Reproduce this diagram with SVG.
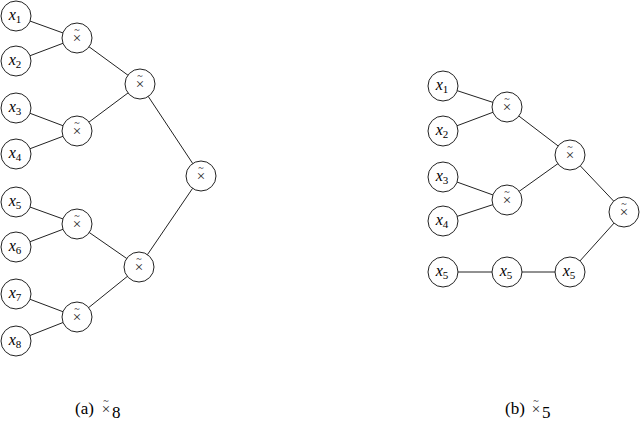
<svg xmlns="http://www.w3.org/2000/svg" width="640" height="422" viewBox="0 0 640 422">
<style>
.n{fill:#fff;stroke:#222;stroke-width:1}
.e{stroke:#222;stroke-width:1;fill:none}
.x{font-family:"Liberation Serif","DejaVu Serif",serif;font-style:italic;font-size:16px;fill:#000;text-anchor:middle}
.s{font-style:normal;font-size:11px}
.m{font-family:"Liberation Serif","DejaVu Serif",serif;font-size:15px;fill:#222;text-anchor:middle}
.t{font-family:"Liberation Serif","DejaVu Serif",serif;font-size:10px;fill:#222;text-anchor:middle}
.c{font-family:"Liberation Serif","DejaVu Serif",serif;font-size:17px;fill:#000}
</style>
<defs>
<g id="tx"><text class="m" y="5">×</text><text class="t" y="-5.5">~</text></g>
<g id="op"><circle class="n" r="15"/><use href="#tx"/></g>
</defs>
<g id="connectors">
<line class="e" x1="16" y1="16" x2="77" y2="38"/>
<line class="e" x1="16" y1="61" x2="77" y2="38"/>
<line class="e" x1="16" y1="108" x2="77" y2="131"/>
<line class="e" x1="16" y1="154" x2="77" y2="131"/>
<line class="e" x1="77" y1="38" x2="140" y2="84"/>
<line class="e" x1="77" y1="131" x2="140" y2="84"/>
<line class="e" x1="16" y1="202" x2="77" y2="224"/>
<line class="e" x1="16" y1="247" x2="77" y2="224"/>
<line class="e" x1="16" y1="294" x2="77" y2="317"/>
<line class="e" x1="16" y1="341" x2="77" y2="317"/>
<line class="e" x1="77" y1="224" x2="139" y2="267"/>
<line class="e" x1="77" y1="317" x2="139" y2="267"/>
<line class="e" x1="140" y1="84" x2="201" y2="176"/>
<line class="e" x1="139" y1="267" x2="201" y2="176"/>
<line class="e" x1="443" y1="86" x2="507" y2="107"/>
<line class="e" x1="443" y1="131" x2="507" y2="107"/>
<line class="e" x1="443" y1="177" x2="507" y2="200"/>
<line class="e" x1="443" y1="221" x2="507" y2="200"/>
<line class="e" x1="507" y1="107" x2="570" y2="155"/>
<line class="e" x1="507" y1="200" x2="570" y2="155"/>
<line class="e" x1="570" y1="155" x2="624" y2="212"/>
<line class="e" x1="443" y1="272" x2="570" y2="272"/>
<line class="e" x1="570" y1="272" x2="624" y2="212"/>
</g>
<g id="a-x1"><circle class="n" cx="16" cy="16" r="15"/><text class="x" x="15" y="20">x<tspan class="s" dy="3">1</tspan></text></g>
<g id="a-x2"><circle class="n" cx="16" cy="61" r="15"/><text class="x" x="15" y="65">x<tspan class="s" dy="3">2</tspan></text></g>
<g id="a-x3"><circle class="n" cx="16" cy="108" r="15"/><text class="x" x="15" y="112">x<tspan class="s" dy="3">3</tspan></text></g>
<g id="a-x4"><circle class="n" cx="16" cy="154" r="15"/><text class="x" x="15" y="158">x<tspan class="s" dy="3">4</tspan></text></g>
<g id="a-x5"><circle class="n" cx="16" cy="202" r="15"/><text class="x" x="15" y="206">x<tspan class="s" dy="3">5</tspan></text></g>
<g id="a-x6"><circle class="n" cx="16" cy="247" r="15"/><text class="x" x="15" y="251">x<tspan class="s" dy="3">6</tspan></text></g>
<g id="a-x7"><circle class="n" cx="16" cy="294" r="15"/><text class="x" x="15" y="298">x<tspan class="s" dy="3">7</tspan></text></g>
<g id="a-x8"><circle class="n" cx="16" cy="341" r="15"/><text class="x" x="15" y="345">x<tspan class="s" dy="3">8</tspan></text></g>
<g id="a-op1"><use href="#op" x="77" y="38"/></g>
<g id="a-op2"><use href="#op" x="77" y="131"/></g>
<g id="a-op3"><use href="#op" x="77" y="224"/></g>
<g id="a-op4"><use href="#op" x="77" y="317"/></g>
<g id="a-op5"><use href="#op" x="140" y="84"/></g>
<g id="a-op6"><use href="#op" x="139" y="267"/></g>
<g id="a-root"><use href="#op" x="201" y="176"/></g>
<g id="b-x1"><circle class="n" cx="443" cy="86" r="15"/><text class="x" x="442" y="90">x<tspan class="s" dy="3">1</tspan></text></g>
<g id="b-x2"><circle class="n" cx="443" cy="131" r="15"/><text class="x" x="442" y="135">x<tspan class="s" dy="3">2</tspan></text></g>
<g id="b-x3"><circle class="n" cx="443" cy="177" r="15"/><text class="x" x="442" y="181">x<tspan class="s" dy="3">3</tspan></text></g>
<g id="b-x4"><circle class="n" cx="443" cy="221" r="15"/><text class="x" x="442" y="225">x<tspan class="s" dy="3">4</tspan></text></g>
<g id="b-x5a"><circle class="n" cx="443" cy="272" r="15"/><text class="x" x="442" y="276">x<tspan class="s" dy="3">5</tspan></text></g>
<g id="b-x5b"><circle class="n" cx="507" cy="272" r="15"/><text class="x" x="506" y="276">x<tspan class="s" dy="3">5</tspan></text></g>
<g id="b-x5c"><circle class="n" cx="570" cy="272" r="15"/><text class="x" x="569" y="276">x<tspan class="s" dy="3">5</tspan></text></g>
<g id="b-op1"><use href="#op" x="507" y="107"/></g>
<g id="b-op2"><use href="#op" x="507" y="200"/></g>
<g id="b-op3"><use href="#op" x="570" y="155"/></g>
<g id="b-root"><use href="#op" x="624" y="212"/></g>
<g id="captions">
<text class="c" x="75" y="414">(a)</text>
<use href="#tx" x="106" y="409"/>
<text class="c" x="112" y="418" font-size="12">8</text>
<text class="c" x="505" y="414">(b)</text>
<use href="#tx" x="536" y="409"/>
<text class="c" x="542" y="418" font-size="12">5</text>
</g>
</svg>
